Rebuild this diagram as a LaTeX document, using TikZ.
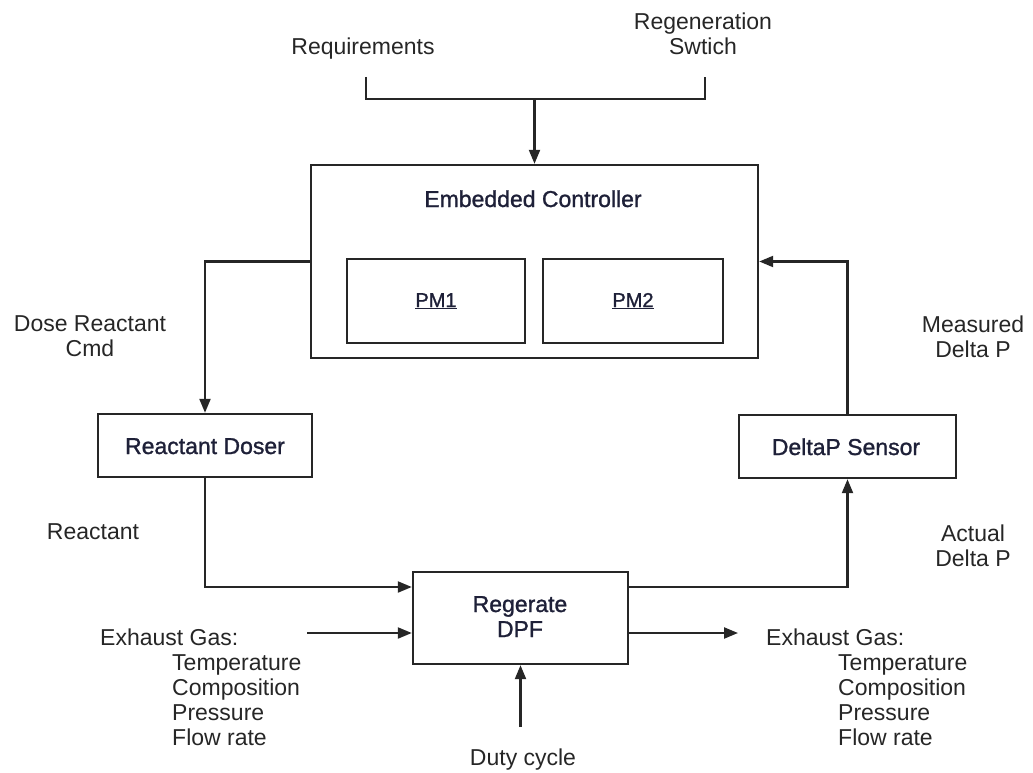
\documentclass[tikz,border=0pt]{standalone}
\usepackage{fontspec}
\setmainfont{Liberation Sans}
\newfontfamily\boxfont[FakeBold=1.2]{Liberation Sans}
\usetikzlibrary{arrows.meta,calc}
\definecolor{ink}{HTML}{262626}
\definecolor{navy}{HTML}{1E2038}
\begin{document}
\begin{tikzpicture}[x=1pt,y=-1pt,
  line width=2.4pt, draw=ink,
  blk/.style={draw=ink, line width=2.4pt, inner sep=0pt, fill=white},
  lbl/.style={inner sep=0pt, text=ink, font=\fontsize{23}{25}\selectfont, align=center, anchor=base},
  boxtxt/.style={inner sep=0pt, text=navy, font=\boxfont\fontsize{23}{25}\selectfont, align=center, anchor=base},
  pmtxt/.style={inner sep=0pt, text=navy, font=\boxfont\fontsize{20}{22}\selectfont, anchor=base},
  list/.style={inner sep=0pt, text=ink, font=\fontsize{23}{25}\selectfont, align=left, anchor=base west},
  arr/.style={draw=ink, line width=2.2pt, -{Triangle[length=14pt,width=11pt]}},
  wire/.style={draw=ink, line width=2.2pt}]
\useasboundingbox (0,0) rectangle (1033,773);

% blocks (text anchored at the baseline of the last line)
\node[blk, minimum width=447pt, minimum height=193pt] (ctrl) at (534.5,261.5) {};
\node[boxtxt] (ctrlt) at (533,207) {Embedded Controller};
\node[blk, minimum width=178pt, minimum height=84pt] (pm1) at (436,301) {};
\node[pmtxt] (pm1t) at (436,307) {\underline{PM1}};
\node[blk, minimum width=180pt, minimum height=84pt] (pm2) at (633,301) {};
\node[pmtxt] (pm2t) at (633,307) {\underline{PM2}};
\node[blk, minimum width=214pt, minimum height=63pt] (doser) at (205,445.5) {};
\node[boxtxt] (dosert) at (205,454) {Reactant Doser};
\node[blk, minimum width=217pt, minimum height=63pt] (dsens) at (847.5,446.5) {};
\node[boxtxt] (dsenst) at (846,455) {DeltaP Sensor};
\node[blk, minimum width=215pt, minimum height=92pt] (regen) at (520.5,618) {};
\node[boxtxt] (regent) at (520,637) {Regerate\\DPF};

% labels
\node[lbl] (req) at (363,55) {Requirements};
\node[lbl] (rsw) at (703,55) {Regeneration\\Swtich};
\node[lbl] (dcmd) at (90,356) {Dose Reactant\\Cmd};
\node[lbl] (mdp) at (973,357) {Measured\\Delta P};
\node[lbl] (rct) at (93,539) {Reactant};
\node[lbl] (adp) at (973,566) {Actual\\Delta P};
\node[lbl] (duty) at (523,765) {Duty cycle};
\node[list] (exin) at (99,745) {Exhaust Gas:\\\hspace*{72pt}Temperature\\\hspace*{72pt}Composition\\\hspace*{72pt}Pressure\\\hspace*{72pt}Flow rate};
\node[list] (exout) at (765,745) {Exhaust Gas:\\\hspace*{72pt}Temperature\\\hspace*{72pt}Composition\\\hspace*{72pt}Pressure\\\hspace*{72pt}Flow rate};

% connector points
\coordinate (reqend) at (366,77);
\coordinate (rswend) at (705,77);
\coordinate (join) at (534.5,99);
\coordinate (gsrc) at (307,633);
\coordinate (gdst) at (738,633);
\coordinate (dsrc) at (520.5,727);
\coordinate (rin) at ($(regen.west)+(0,-31)$);
\coordinate (rout) at ($(regen.east)+(0,-31)$);
\coordinate (gin) at (regen.west |- gsrc);
\coordinate (gout) at (regen.east |- gdst);

% connectors
\draw[wire] (reqend) |- (join) -| (rswend);
\draw[arr] (join) -- (ctrl.north);
\draw[arr] (ctrl.west) -| (doser.north);
\draw[arr] (dsens.north) |- (ctrl.east);
\draw[arr] (doser.south) |- (rin);
\draw[arr] (rout) -| (dsens.south);
\draw[arr] (gsrc) -- (gin);
\draw[arr] (gout) -- (gdst);
\draw[arr] (dsrc) -- (regen.south);
\end{tikzpicture}
\end{document}
